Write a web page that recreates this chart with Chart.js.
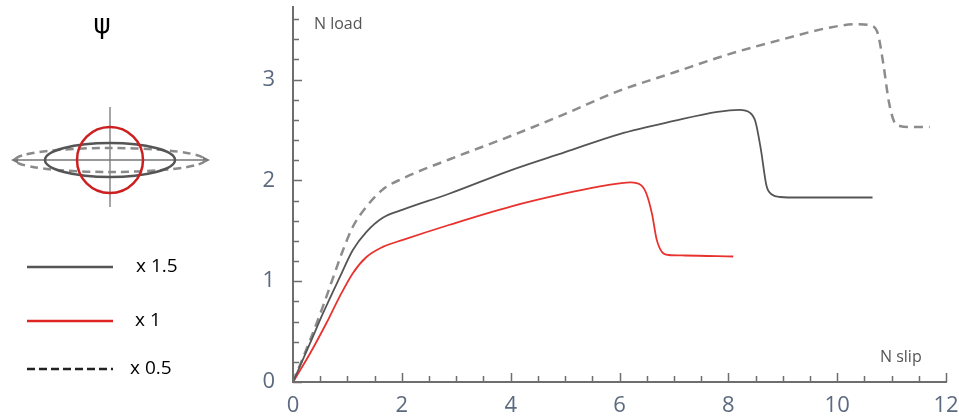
<!DOCTYPE html>
<html lang="en">
<head>
    <meta charset="UTF-8">
    <title>Load - slip</title>
    <script src="https://cdn.jsdelivr.net/npm/chart.js@4.4.1/dist/chart.umd.min.js"></script>
    <style>
        html, body { margin: 0; padding: 0; background: #fff; }
        #container { width: 959px; height: 420px; }
    </style>
</head>
<body>
<div id="container">
    <canvas id="canvas"></canvas>
</div>
<script>
    // series labels
    var SERIES = ['x 1.5', 'x 1', 'x 0.5'];

    // x 1.5 (solid grey)
    var SLIP_A = [0, 0.31, 0.55, 0.86, 1.10, 1.35, 1.65, 2.02, 2.88, 4.0, 5.0, 6.0, 7.0, 7.8, 8.2, 8.4, 8.5, 8.6, 8.7, 8.8, 8.95, 9.3, 10.65];
    var LOAD_A = [0, 0.38, 0.68, 1.04, 1.31, 1.49, 1.63, 1.71, 1.87, 2.10, 2.28, 2.46, 2.59, 2.68, 2.70, 2.67, 2.58, 2.30, 1.95, 1.86, 1.835, 1.83, 1.83];

    // x 1 (red)
    var SLIP_B = [0, 0.31, 0.61, 0.86, 1.10, 1.35, 1.65, 2.02, 2.88, 4.0, 5.0, 5.64, 6.0, 6.2, 6.4, 6.5, 6.6, 6.68, 6.78, 6.9, 7.2, 8.09];
    var LOAD_B = [0, 0.28, 0.58, 0.85, 1.08, 1.24, 1.34, 1.41, 1.56, 1.74, 1.87, 1.94, 1.97, 1.98, 1.95, 1.86, 1.66, 1.42, 1.29, 1.26, 1.255, 1.245];

    // x 0.5 (dashed)
    var SLIP_C = [0, 0.31, 0.55, 0.74, 0.92, 1.10, 1.35, 1.65, 2.02, 2.88, 4.0, 5.0, 6.0, 7.0, 8.0, 9.0, 9.9, 10.4, 10.65, 10.75, 10.85, 10.95, 11.05, 11.15, 11.35, 11.7];
    var LOAD_C = [0, 0.41, 0.75, 1.04, 1.31, 1.54, 1.74, 1.91, 2.02, 2.21, 2.44, 2.66, 2.89, 3.07, 3.25, 3.40, 3.52, 3.55, 3.53, 3.45, 3.15, 2.78, 2.58, 2.54, 2.53, 2.53];

    var X_TICKS = [0, 2, 4, 6, 8, 10, 12];
    var Y_TICKS = [0, 1, 2, 3];
    var X_MAX = 12;
    var Y_MAX = 3.72;

    function points(xs, ys) {
        return xs.map(function(x, i) { return {x: x, y: ys[i]}; });
    }

    var AXIS = '#6e6e6e';
    var TICK_TEXT = '#5c6a80';

    // inward major/minor ticks, axis names and the shape sketch with legend
    var decorations = {
        id: 'decorations',
        afterDraw: function(chart) {
            var ctx = chart.ctx;
            var xs = chart.scales.x, ys = chart.scales.y;
            var area = chart.chartArea;
            var v, p;

            ctx.save();
            ctx.strokeStyle = AXIS;
            ctx.lineWidth = 1.5;
            ctx.beginPath();
            for (v = 0; v <= X_MAX + 1e-9; v += 0.5) {
                p = Math.round(xs.getPixelForValue(v)) + 0.5;
                var lx = (Math.abs(v % 2) < 1e-9) ? 9 : 6;
                ctx.moveTo(p, area.bottom);
                ctx.lineTo(p, area.bottom - lx);
            }
            for (v = 0; v <= Y_MAX; v += 0.2) {
                p = Math.round(ys.getPixelForValue(v)) + 0.5;
                var ly = (Math.abs(v - Math.round(v)) < 1e-6) ? 9 : 6;
                ctx.moveTo(area.left, p);
                ctx.lineTo(area.left + ly, p);
            }
            ctx.stroke();

            ctx.fillStyle = '#555';
            ctx.font = '16px "Open Sans"';
            ctx.textBaseline = 'middle';
            ctx.textAlign = 'left';
            ctx.fillText('N load', area.left + 21, area.top + 17);
            ctx.fillText('N slip', area.right - 66, area.bottom - 25);

            // psi symbol
            ctx.fillStyle = '#000';
            ctx.font = '26px "DejaVu Sans"';
            ctx.textAlign = 'center';
            ctx.fillText('\u03c8', 102, 26);

            // cross-section sketch
            var cx = 110, cy = 160;
            ctx.strokeStyle = '#777';
            ctx.lineWidth = 1.3;
            ctx.beginPath();
            ctx.moveTo(cx, 107); ctx.lineTo(cx, 207);
            ctx.moveTo(14, cy); ctx.lineTo(207, cy);
            ctx.stroke();
            ctx.fillStyle = '#777';
            ctx.beginPath();
            ctx.moveTo(11, cy); ctx.lineTo(18, cy - 3.5); ctx.lineTo(18, cy + 3.5); ctx.closePath();
            ctx.moveTo(210, cy); ctx.lineTo(203, cy - 3.5); ctx.lineTo(203, cy + 3.5); ctx.closePath();
            ctx.fill();

            ctx.lineWidth = 2.5;
            ctx.strokeStyle = '#8a8a8a';
            ctx.setLineDash([8, 5]);
            ctx.beginPath();
            ctx.ellipse(cx, cy, 95, 12, 0, 0, Math.PI * 2);
            ctx.stroke();
            ctx.setLineDash([]);
            ctx.strokeStyle = '#555';
            ctx.beginPath();
            ctx.ellipse(cx, cy, 65, 17, 0, 0, Math.PI * 2);
            ctx.stroke();
            ctx.strokeStyle = '#cc1f1f';
            ctx.beginPath();
            ctx.arc(cx, cy, 33, 0, Math.PI * 2);
            ctx.stroke();

            // legend
            var rows = [267, 321, 369];
            var textX = [136, 135, 130];
            var legendColors = ['#555', '#e02424', '#222'];
            ctx.font = '19px "Open Sans"';
            ctx.textAlign = 'left';
            chart.data.datasets.forEach(function(ds, i) {
                ctx.strokeStyle = legendColors[i];
                ctx.lineWidth = 2.5;
                ctx.setLineDash(ds.borderDash && ds.borderDash.length ? [8, 4] : []);
                ctx.beginPath();
                ctx.moveTo(27, rows[i]);
                ctx.lineTo(113, rows[i]);
                ctx.stroke();
                ctx.setLineDash([]);
                ctx.fillStyle = '#000';
                ctx.fillText(ds.label, textX[i], rows[i]);
            });
            ctx.restore();
        }
    };

    window.onload = function() {
        var ctx = document.getElementById('canvas').getContext('2d');
        window.myChart = new Chart(ctx, {
            type: 'line',
            data: {
                datasets: [{
                    label: SERIES[0],
                    data: points(SLIP_A, LOAD_A),
                    borderColor: '#555555',
                    borderWidth: 1.8
                }, {
                    label: SERIES[1],
                    data: points(SLIP_B, LOAD_B),
                    borderColor: '#e8322e',
                    borderWidth: 1.8
                }, {
                    label: SERIES[2],
                    data: points(SLIP_C, LOAD_C),
                    borderColor: '#8c8c8c',
                    borderWidth: 2.5,
                    borderDash: [9, 6]
                }]
            },
            options: {
                responsive: true,
                maintainAspectRatio: false,
                animation: false,
                layout: { padding: { left: 0, top: 7, right: 13, bottom: 0 } },
                elements: {
                    point: { radius: 0 },
                    line: { cubicInterpolationMode: 'monotone', fill: false }
                },
                plugins: {
                    legend: { display: false },
                    tooltip: { enabled: false }
                },
                scales: {
                    x: {
                        type: 'linear',
                        min: 0,
                        max: X_MAX,
                        grid: { display: false },
                        border: { display: true, color: AXIS, width: 2 },
                        ticks: {
                            color: TICK_TEXT,
                            font: { family: '"Open Sans"', size: 22 },
                            padding: 3,
                            maxRotation: 0
                        },
                        afterBuildTicks: function(scale) {
                            scale.ticks = X_TICKS.map(function(v) { return {value: v}; });
                        },
                        afterFit: function(scale) {
                            scale.height = 38;
                            scale.paddingLeft = 0;
                            scale.paddingRight = 0;
                        }
                    },
                    y: {
                        type: 'linear',
                        min: 0,
                        max: Y_MAX,
                        grid: { display: false },
                        border: { display: true, color: AXIS, width: 2 },
                        ticks: {
                            color: TICK_TEXT,
                            font: { family: '"Open Sans"', size: 22 },
                            padding: 10
                        },
                        afterBuildTicks: function(scale) {
                            scale.ticks = Y_TICKS.map(function(v) { return {value: v}; });
                        },
                        afterFit: function(scale) {
                            scale.width = 293;
                            scale.paddingTop = 0;
                            scale.paddingBottom = 0;
                        }
                    }
                }
            },
            plugins: [decorations]
        });
    };
</script>
</body>
</html>
